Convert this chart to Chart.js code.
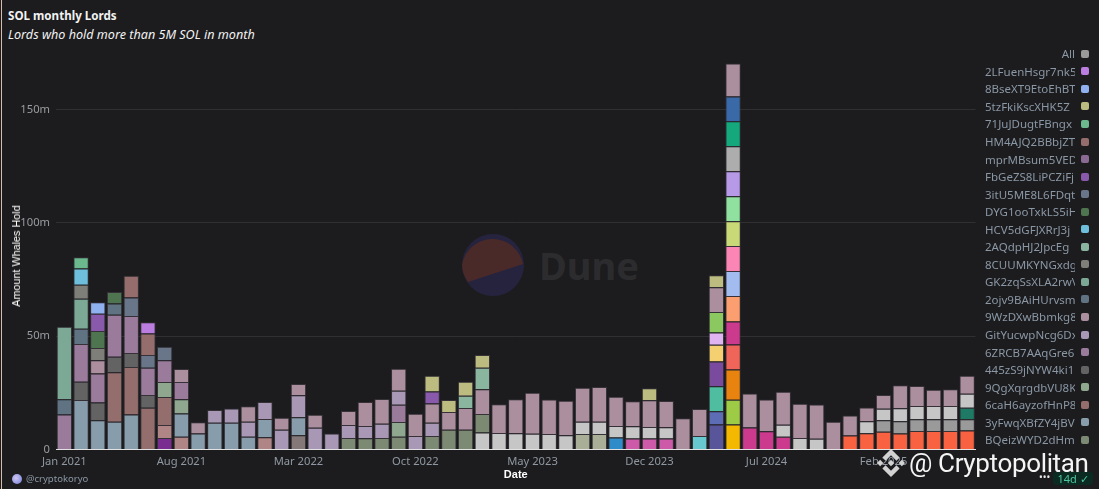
<!DOCTYPE html>
<html>
<head>
<meta charset="utf-8">
<title>SOL monthly Lords</title>
<script src="https://cdn.jsdelivr.net/npm/chart.js@4"></script>
<style>
  html, body { margin: 0; padding: 0; background: #1c1c1e; overflow: hidden; }
  body { width: 1099px; height: 489px; position: relative; font-family: "Noto Sans", sans-serif; }
  #edge { position: absolute; left: 1px; top: 0; width: 1px; height: 489px; background: #d8bcae; }
  #head { position: absolute; left: 8px; top: 7px; color: #f2f2f2; }
  #head .t { font-size: 11.6px; font-weight: 700; line-height: 17px; }
  #head .s { font-size: 12.6px; font-style: italic; line-height: 17px; margin-top: 2px; }
  #mark { position: absolute; left: 462px; top: 234px; z-index: 0; }
  #duneText { position: absolute; left: 539px; top: 239px; font-size: 38px; font-weight: 700; color: #2c2c2f; line-height: 52px; z-index: 0; }
  canvas { position: absolute; left: 0; top: 0; z-index: 1; }
  #yTitle { position: absolute; left: 16px; top: 256px; z-index: 2; transform: translate(-50%, -50%) rotate(-90deg); font-family: "Liberation Sans", sans-serif; font-size: 10.8px; color: #fff; white-space: nowrap; }
  #legend { position: absolute; left: 970px; top: 45px; width: 122px; z-index: 2; }
  #legend .row { height: 17.55px; display: flex; align-items: center; justify-content: flex-end; }
  #legend .name { width: 90px; overflow: hidden; white-space: nowrap; font-size: 11.5px; color: #8a97a5; text-align: left; margin-right: 6px; }
  #legend .all { text-align: right; }
  #legend .box { width: 8px; height: 8px; border-radius: 2px; margin-right: 3px; flex: none; }
  #who { position: absolute; left: 12px; top: 473px; z-index: 2; font-size: 9.5px; color: #8a97a5; line-height: 12px; padding-left: 14px; }
  #who i { position: absolute; left: 0; top: 1px; width: 10px; height: 10px; border-radius: 50%; background: radial-gradient(circle at 40% 40%, #cfc4f2, #6f7fd8); }
  #brand { position: absolute; left: 909px; top: 444px; z-index: 3; font-family: Roboto, sans-serif; font-size: 26px; letter-spacing: -0.35px; color: #f4f4f4; line-height: 38px; white-space: nowrap; }
  #logo { position: absolute; left: 877px; top: 449px; z-index: 3; }
  #dots { position: absolute; left: 1039px; top: 470px; z-index: 3; color: #e8e8e8; font-size: 10px; letter-spacing: 0; line-height: 14px; }
  #age { position: absolute; left: 1053px; top: 472px; width: 40px; height: 13px; background: #0b2a22; border-radius: 3px; z-index: 2; color: #4cc6a0; font-size: 11px; line-height: 13px; text-align: center; }
</style>
</head>
<body>
<div id="edge"></div>
<div id="head">
  <div class="t">SOL monthly Lords</div>
  <div class="s">Lords who hold more than 5M SOL in month</div>
</div>
<svg id="mark" width="62" height="62" viewBox="0 0 62 62">
  <circle cx="31" cy="31" r="31" fill="#26233f"/>
  <path d="M6 48 L61 30 A31 31 0 0 0 0 31 A31 31 0 0 0 6 48 Z" fill="#4a2a28"/>
</svg>
<div id="duneText">Dune</div>
<canvas id="chart" width="1099" height="489"></canvas>
<div id="yTitle">Amount Whales Hold</div>
<div id="legend"></div>
<div id="who"><i></i>@cryptokoryo</div>
<svg id="logo" width="28" height="28" viewBox="0 0 126.61 126.61" fill="#d2d2d2">
  <path d="M38.73 53.2l24.59-24.58 24.6 24.6 14.3-14.31L63.32 0 24.42 38.9zM0 63.31l14.3-14.31 14.31 14.31-14.31 14.3zM38.73 73.41l24.59 24.59 24.6-24.6 14.31 14.29-38.9 38.91-38.91-38.88-.02-.02zM98 63.31l14.3-14.31 14.31 14.3-14.31 14.32z"/>
  <path d="M77.83 63.3L63.32 48.78 52.59 59.51l-1.24 1.23-2.54 2.54 14.51 14.5 14.51-14.47z"/>
</svg>
<div id="brand">@ Cryptopolitan</div>
<div id="dots">•••</div>
<div id="age">14d ✓</div>

<script>
const months = [
  "Jan 2021", "Feb 2021", "Mar 2021", "Apr 2021", "May 2021", "Jun 2021", "Jul 2021", "Aug 2021", "Sep 2021", "Oct 2021", "Nov 2021", "Dec 2021",
  "Jan 2022", "Feb 2022", "Mar 2022", "Apr 2022", "May 2022", "Jun 2022", "Jul 2022", "Aug 2022", "Sep 2022", "Oct 2022", "Nov 2022", "Dec 2022",
  "Jan 2023", "Feb 2023", "Mar 2023", "Apr 2023", "May 2023", "Jun 2023", "Jul 2023", "Aug 2023", "Sep 2023", "Oct 2023", "Nov 2023", "Dec 2023",
  "Jan 2024", "Feb 2024", "Mar 2024", "Apr 2024", "May 2024", "Jun 2024", "Jul 2024", "Aug 2024", "Sep 2024", "Oct 2024", "Nov 2024", "Dec 2024",
  "Jan 2025", "Feb 2025", "Mar 2025", "Apr 2025", "May 2025", "Jun 2025", "Jul 2025"
];
const xTicks = ["Jan 2021", "Aug 2021", "Mar 2022", "Oct 2022", "May 2023", "Dec 2023", "Jul 2024", "Feb 2025"];
const yTicks = [0, 50, 100, 150];

// each list is [index into months, millions of SOL]
// wallets cut off below the bottom of the legend
const yellow = [[40, 11]];
const lime = [[40, 10.9]];
const orange = [[40, 13.4]];
const coral = [[40, 11]];
const magenta = [[40, 10.1], [41, 9.7], [42, 8.1], [43, 5.6]];
const salmon = [[40, 11.3]];
const sky = [[40, 11]];
const rose = [[40, 11]];
const pear = [[40, 10.9]];
const mint = [[40, 11.1]];
const violet = [[40, 11]];
const ash = [[40, 11]];
const jade = [[40, 11]];
const cobalt = [[40, 11]];
const indigo = [[39, 11]];
const blue = [[39, 5.9]];
const teal = [[39, 11]];
const purple = [[39, 10.9]];
const butter = [[39, 7.4]];
const lilac = [[39, 5.4]];
const leaf = [[39, 9]];
const aqua = [[38, 5.9]];
const vermilion = [[47, 6.2], [48, 7.2], [49, 7.8], [50, 7.1], [51, 8.2], [52, 8.2], [53, 8.2], [54, 8.4]];
const steel = [[49, 5.1], [50, 5.4], [51, 5.1], [52, 5.1], [53, 5.1], [54, 4.9]];
const pine = [[54, 5.1]];
const azure = [[33, 5.3]];
const orchid = [[34, 4.9], [35, 4.9], [36, 4.9]];
const sage = [[31, 6.8], [32, 6.8]];
const silver = [[25, 7.5], [26, 7.3], [27, 7.2], [28, 6.9], [29, 6.8], [30, 6.3], [31, 5.4], [32, 5.4], [33, 5.1], [34, 5.4], [35, 5], [36, 4.9], [43, 5.3], [44, 5.1], [45, 4.7], [48, 5.3], [49, 5.1], [50, 5.7], [51, 5.9], [52, 5.9], [53, 5.9], [54, 6.2]];
const grape = [[6, 5.1]];
const rosy = [[6, 5.7], [7, 5.6], [12, 5.4]];
const taupe = [[14, 6.3]];

// wallets named in the legend, bottom of the stack first
const BQeiz = [[17, 5.1], [18, 5], [19, 5.1], [20, 5.6], [22, 5.9], [23, 8.7], [24, 8.7], [25, 8.2]];
const yFwq3 = [[1, 21.8], [2, 12.9], [3, 12.2], [4, 15.4], [7, 10.3], [8, 7.1], [9, 11.8], [10, 11.8], [11, 5.6], [12, 8.1], [14, 7.9]];
const caH6 = [[3, 21.9], [4, 21], [5, 18.4], [6, 12.4]];
const QgXq = [[6, 6.6], [7, 6.3], [20, 6.5]];
const zS9j = [[1, 8.1], [2, 7.8], [3, 6.8], [4, 6.2], [5, 5.6]];
const ZRCB = [[0, 15.4], [1, 16.6], [2, 12.8], [3, 18.5], [4, 16.3], [5, 12], [6, 9.6], [7, 7.6], [20, 7.6]];
const GitYu = [[9, 5.6], [10, 6.3], [11, 6.6], [12, 7.5], [13, 8.7], [14, 9.7], [15, 9.6], [16, 7.1], [17, 5.7], [18, 5.4], [19, 6.2], [20, 6.2], [21, 5.9], [22, 5.9]];
const WzDX = [[2, 5.9], [7, 5.7], [8, 4.9], [11, 6.9], [13, 5.3], [14, 5], [15, 5.7], [17, 6.2], [18, 10.6], [19, 11], [20, 9.7], [21, 9.9], [22, 8.5], [23, 7.8], [24, 9.6], [25, 10.9], [26, 12.7], [27, 15], [28, 18.1], [29, 15.2], [30, 15.2], [31, 15], [32, 15.4], [33, 12.9], [34, 11], [35, 11.8], [36, 11.6], [37, 13.8], [38, 12], [39, 10.9], [40, 14.5], [41, 15], [42, 14], [43, 14.6], [44, 15.1], [45, 15.1], [46, 12.2], [47, 8.8], [48, 6], [49, 6], [50, 10.1], [51, 8.8], [52, 7.2], [53, 7.4], [54, 7.9]];
const ojv9 = [[0, 6.8], [1, 6.8], [3, 5]];
const GK2z = [[0, 31.9], [1, 13.2]];
const CUUM = [[1, 6.2], [2, 5.4]];
const AQdp = [[24, 5.4], [25, 9.4]];
const HCV5 = [[1, 7.1]];
const DYG1 = [[2, 7.5], [3, 5.1]];
const itU5 = [[4, 8.1], [5, 5.7], [6, 5.9]];
const FbGe = [[2, 7.6], [22, 5.3]];
const mprM = [];
const HM4A = [[4, 9.6], [5, 9.4]];
const JuJD = [[1, 5]];
const tzFk = [[22, 6.9], [23, 5.3], [24, 6.2], [25, 5.7], [35, 5.3], [39, 5.3]];
const BseX = [[2, 5]];
const LFue = [[5, 5]];

// legend text, top row first
const walletNames = [
  "2LFuenHsgr7nk5", "8BseXT9EtoEhBT", "5tzFkiKscXHK5Z", "71JuJDugtFBngx", "HM4AJQ2BBbjZT",
  "mprMBsum5VED", "FbGeZS8LiPCZiFj", "3itU5ME8L6FDqt", "DYG1ooTxkLS5iH", "HCV5dGFJXRrJ3j",
  "2AQdpHJ2JpcEg", "8CUUMKYNGxdgT", "GK2zqSsXLA2rwV", "2ojv9BAiHUrvsm", "9WzDXwBbmkg8",
  "GitYucwpNcg6Dx", "6ZRCB7AAqGre6", "445zS9jNYW4ki1", "9QgXqrgdbVU8Kc", "6caH6ayzofHnP8",
  "3yFwqXBfZY4jBV", "BQeizWYD2dHmC"
];
const walletSeries = [LFue, BseX, tzFk, JuJD, HM4A, mprM, FbGe, itU5, DYG1, HCV5, AQdp, CUUM, GK2z, ojv9, WzDX, GitYu, ZRCB, zS9j, QgXq, caH6, yFwq3, BQeiz];
const walletColors = [
  "#bb7ee0", "#8fb1f0", "#bdbc80", "#6db98e", "#946d6c", "#8a6a95", "#8959ab", "#69768a", "#4e7450", "#6ebfdc", "#8ab59f",
  "#7e7f78", "#7ba996", "#5f7382", "#ab8f9e", "#a898b6", "#9a7b9c", "#636363", "#8fa78f", "#936e6d", "#889dab", "#7c8a74"
];
const hiddenSeries = [yellow, lime, orange, coral, magenta, salmon, sky, rose, pear, mint, violet, ash, jade, cobalt, indigo, blue, teal, purple, butter, lilac, leaf, aqua, vermilion, steel, pine, azure, orchid, sage, silver, grape, rosy, taupe];
const hiddenColors = [
  "#f4b800", "#9ecb45", "#e8830f", "#ef6559", "#cc3a8e", "#fb9f70", "#a3bcf0", "#fb86b5", "#c9d977", "#90e0a0", "#b69ae8", "#adadad", "#14a87c", "#3a69a8",
  "#58559a", "#5d6db5", "#4fbda0", "#7a4a9e", "#f5d070", "#e0b4f0", "#8cc860", "#68c8d0", "#f96240", "#9a9a9a", "#1f7a65", "#2f8cc8", "#cc5aa8", "#a9ae96", "#c6c6c6", "#7a2d90", "#b08585", "#857878"
];

function toBars(points) {
  return points.map(function (p) {
    return { x: months[p[0]], y: p[1] };
  });
}

const datasets = [];
hiddenSeries.forEach(function (s, i) {
  datasets.push({ label: "hidden " + i, data: toBars(s), backgroundColor: hiddenColors[i] });
});
// the stack runs opposite to the legend
for (let i = walletNames.length - 1; i >= 0; i--) {
  datasets.push({ label: walletNames[i], data: toBars(walletSeries[i]), backgroundColor: walletColors[i] });
}
datasets.forEach(function (d) {
  d.borderColor = "rgba(62,56,64,0.75)";
  d.borderWidth = 1;
  d.stack = "lords";
  d.barPercentage = 0.92;
  d.categoryPercentage = 1;
});

// Legend
const legend = document.getElementById("legend");
function addRow(name, color, isAll) {
  const row = document.createElement("div");
  row.className = "row";
  const label = document.createElement("div");
  label.className = isAll ? "name all" : "name";
  label.textContent = name;
  const box = document.createElement("div");
  box.className = "box";
  box.style.background = color;
  row.appendChild(label);
  row.appendChild(box);
  legend.appendChild(row);
}
addRow("All", "#9a9a9a", true);
walletNames.forEach(function (n, i) { addRow(n, walletColors[i], false); });

const tickFont = { family: "'Noto Sans', sans-serif", size: 11.2 };

new Chart(document.getElementById("chart").getContext("2d"), {
  type: "bar",
  data: { labels: months, datasets: datasets },
  options: {
    responsive: false,
    animation: false,
    layout: { padding: { left: 0, right: 123.5, top: 41.3, bottom: 0 } },
    plugins: { legend: { display: false }, title: { display: false }, tooltip: { enabled: false } },
    scales: {
      x: {
        stacked: true,
        grid: { display: false, drawTicks: false },
        border: { color: "#e2e2e2", width: 1 },
        ticks: {
          color: "#8f98a2",
          font: tickFont,
          padding: 6,
          maxRotation: 0,
          autoSkip: false,
          callback: function (value) {
            const label = this.getLabelForValue(value);
            return xTicks.includes(label) ? label : "";
          }
        },
        title: { display: true, text: "Date", color: "#ffffff", font: { family: "'Liberation Sans', sans-serif", size: 11, weight: "bold" }, padding: { top: 0, bottom: 7 } },
        afterFit: function (scale) { scale.height = 39.5; }
      },
      y: {
        stacked: true,
        min: 0,
        max: 180,
        grid: { color: "#303033", drawTicks: false },
        border: { display: false },
        afterBuildTicks: function (scale) {
          scale.ticks = yTicks.map(function (v) { return { value: v }; });
        },
        ticks: {
          color: "#9a9da1",
          font: tickFont,
          padding: 6,
          callback: function (value) { return value === 0 ? "0" : value + "m"; }
        },
        afterFit: function (scale) { scale.width = 56; }
      }
    }
  }
});
</script>
</body>
</html>
